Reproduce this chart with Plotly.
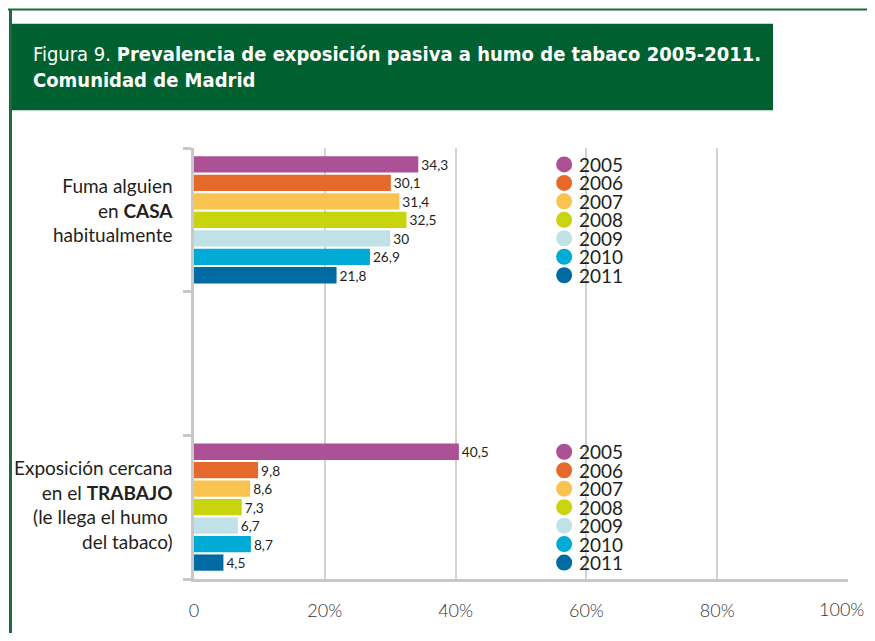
import plotly.graph_objects as go

# ---------------- data ----------------
years = ["2005", "2006", "2007", "2008", "2009", "2010", "2011"]
colors = ["#AD5196", "#E5692A", "#FAC24E", "#C8D40E", "#C0E2E6", "#00ABD5", "#006AA3"]
categories = ["CASA", "GAP", "TRABAJO"]
category_labels = [
    "Fuma alguien<br>en <b>CASA</b><br>habitualmente",
    "",
    "Exposición cercana<br>en el <b>TRABAJO</b><br>(le llega el humo\u00a0<br>del tabaco)",
]
casa = [34.3, 30.1, 31.4, 32.5, 30.0, 26.9, 21.8]
trabajo = [40.5, 9.8, 8.6, 7.3, 6.7, 8.7, 4.5]
x_tickvals = [0, 20, 40, 60, 80, 100]
x_ticktext = ["0", "20%", "40%", "60%", "80%", "100%"]
title_light = "Figura 9."
title_bold_1 = "Prevalencia de exposición pasiva a humo de tabaco 2005-2011."
title_bold_2 = "Comunidad de Madrid"

# ---------------- layout geometry ----------------
# the page body has an 8px margin: size the figure to fit inside it and
# work in reference (page) pixels shifted by 8
OFF = 8
W, H = 875 - 2 * OFF, 641 - 2 * OFF
ML = 194 - OFF
MT = 148 - OFF
MR = W - (848 - OFF)
MB = H - (582 - OFF)
PW, PH = W - ML - MR, H - MT - MB
BARGAP = 0.10
GROUPGAP = 0.12

def px_x(p):
    return (p - OFF - ML) / PW

def px_y(p):
    return (H - MB - (p - OFF)) / PH

def fmt(v):
    return f"{v:g}".replace(".", ",")

GREEN = "#00602F"
GRID = "#D2D2D2"
TXT = "#231F20"
TICKFONT = dict(family="Lato", size=18, color="#333333", weight=300)

fig = go.Figure()
for i, yr in enumerate(years):
    vals = [casa[i], trabajo[i]]
    fig.add_trace(go.Bar(
        orientation="h",
        y=[categories[0], categories[2]],
        x=vals,
        name=yr,
        marker=dict(color=colors[i], line=dict(width=0)),
        text=[fmt(v) for v in vals],
        textposition="outside",
        textfont=dict(family="Lato", size=16, color=TXT),
        cliponaxis=False,
        showlegend=False,
        hoverinfo="x+name",
    ))

annotations = []
shapes = []

# legend entries beside each group, aligned with bars
slot = (1 - BARGAP) / len(years)
LEG_DOT_X = 56.6
LEG_TXT_X = 58.6
DOT_R = 8
for ci in (0, 2):
    for i, yr in enumerate(years):
        yy = ci - (1 - BARGAP) / 2 + slot * (i + 0.5)
        shapes.append(dict(
            type="circle", xref="x", yref="y",
            xsizemode="pixel", ysizemode="pixel",
            xanchor=LEG_DOT_X, yanchor=yy,
            x0=-DOT_R, x1=DOT_R, y0=-DOT_R, y1=DOT_R,
            fillcolor=colors[i], line=dict(width=0),
        ))
        annotations.append(dict(
            x=LEG_TXT_X, y=yy, xref="x", yref="y", text=yr, showarrow=False,
            font=dict(family="Lato", size=19, color=TXT),
            xanchor="left", yanchor="middle",
        ))

# category labels (right aligned, left of the axis)
label_shift = {"CASA": 10, "TRABAJO": 3}
for cat, lab in zip(categories, category_labels):
    if not lab:
        continue
    annotations.append(dict(
        x=px_x(175), y=cat, xref="paper", yref="y", text=lab, showarrow=False,
        align="right", xanchor="right", yanchor="middle", yshift=label_shift[cat],
        font=dict(family="Lato", size=19, color=TXT),
    ))

# last x tick label drawn as annotation so it stays inside the page
annotations.append(dict(
    x=x_tickvals[-1], y=px_y(612), xref="x", yref="paper", text=x_ticktext[-1],
    showarrow=False, xanchor="right", yanchor="middle", xshift=18, font=TICKFONT,
))

# title
annotations.append(dict(
    x=px_x(31), y=px_y(66), xref="paper", yref="paper",
    text=(f"<span style='font-weight:300'>{title_light}</span> <b>{title_bold_1}</b>"
          f"<br><b>{title_bold_2}</b>"),
    showarrow=False, align="left", xanchor="left", yanchor="middle",
    font=dict(family="DejaVu Sans Condensed, Roboto", size=20, color="white"),
))

shapes += [
    dict(type="rect", xref="paper", yref="paper",
         x0=px_x(10), x1=px_x(773), y0=px_y(110), y1=px_y(23),
         fillcolor=GREEN, line=dict(width=0), layer="below"),
    dict(type="line", xref="paper", yref="paper",
         x0=px_x(8), x1=px_x(880), y0=px_y(8.5), y1=px_y(8.5),
         line=dict(color="#1B6B3C", width=2)),
    dict(type="line", xref="paper", yref="paper",
         x0=px_x(10.5), x1=px_x(10.5), y0=px_y(8), y1=px_y(650),
         line=dict(color="#1B6B3C", width=3)),
]

fig.update_layout(
    width=W, height=H,
    margin=dict(l=ML, r=MR, t=MT, b=MB, pad=0),
    paper_bgcolor="white", plot_bgcolor="white",
    barmode="group", bargap=BARGAP, bargroupgap=GROUPGAP,
    annotations=annotations, shapes=shapes,
    font=dict(family="Lato", color=TXT),
    showlegend=False,
    xaxis=dict(
        range=[0, 100], tickmode="array", tickvals=x_tickvals,
        ticktext=x_ticktext[:-1] + [""],
        showgrid=True, gridcolor=GRID, gridwidth=2, zeroline=False,
        showline=True, linecolor="#C8C8C8", linewidth=3,
        ticks="", ticklabelstandoff=13,
        tickfont=TICKFONT,
    ),
    yaxis=dict(
        type="category", categoryorder="array", categoryarray=categories,
        autorange="reversed", tickson="boundaries",
        tickmode="array", tickvals=categories, ticktext=["", "", ""],
        ticks="outside", ticklen=8, tickwidth=3, tickcolor="#C8C8C8",
        showline=True, linecolor="#C8C8C8", linewidth=3, showgrid=False,
    ),
)

fig.write_html("out.html")
